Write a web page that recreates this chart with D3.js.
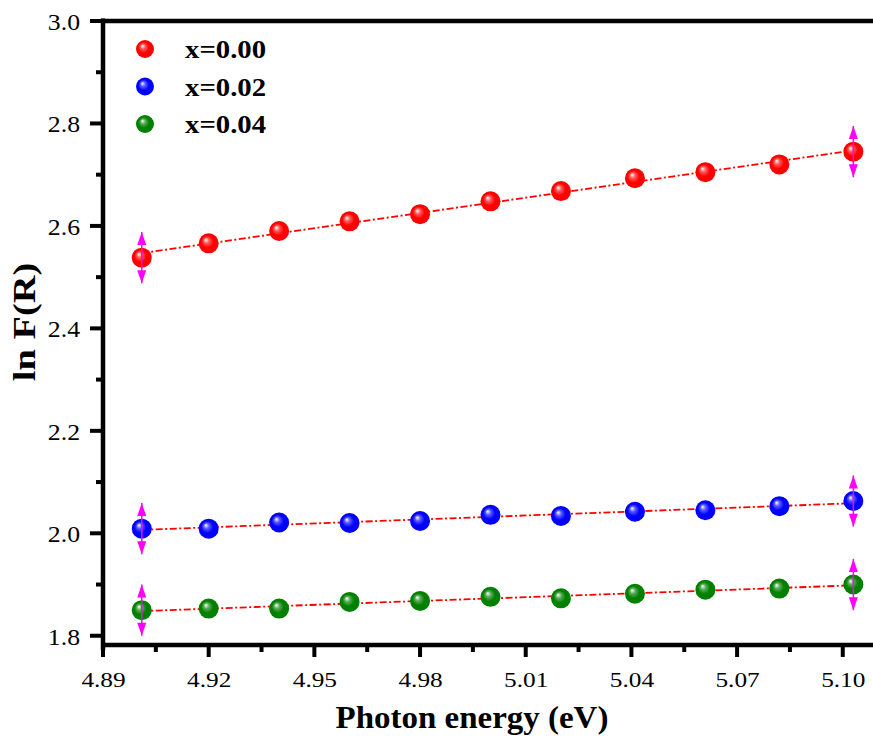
<!DOCTYPE html>
<html>
<head>
<meta charset="utf-8">
<script src="https://cdn.jsdelivr.net/npm/d3@7.9.0/dist/d3.min.js"></script>
<style>
  body { margin: 0; background: #fff; }
  svg { display: block; font-family: "Liberation Serif", "Times New Roman", serif; }
</style>
</head>
<body>
<svg id="chart" width="873" height="736"></svg>
<script>
// photon energy (eV)
const energy = [4.901, 4.920, 4.940, 4.960, 4.980, 5.000, 5.020, 5.041, 5.061, 5.082, 5.103];
// ln F(R) for each composition
const lnF000 = [2.538, 2.566, 2.590, 2.609, 2.623, 2.648, 2.668, 2.693, 2.705, 2.720, 2.745];
const lnF002 = [2.009, 2.009, 2.021, 2.020, 2.024, 2.036, 2.034, 2.042, 2.045, 2.053, 2.063];
const lnF004 = [1.850, 1.853, 1.853, 1.866, 1.868, 1.876, 1.873, 1.882, 1.890, 1.892, 1.900];
const seriesNames = ['x=0.00', 'x=0.02', 'x=0.04'];
const seriesColors = ['#ff0000', '#0000ff', '#008000'];
// error bars only on first and last points
const errIndex = [0, 10];
const errValue = 0.05;
const xTicks = [4.89, 4.92, 4.95, 4.98, 5.01, 5.04, 5.07, 5.10];
const yTicks = [1.8, 2.0, 2.2, 2.4, 2.6, 2.8, 3.0];

const series = [lnF000, lnF002, lnF004];

const svg = d3.select('#chart');
const x = d3.scaleLinear().domain([4.89, 5.11]).range([103, 878]);
const y = d3.scaleLinear().domain([1.78, 3.0]).range([646, 21]);

// stretch text horizontally (the original is slightly wide)
function stretch(sel, k) {
  sel.each(function () {
    const w = this.getComputedTextLength();
    d3.select(this).attr('textLength', w * k).attr('lengthAdjust', 'spacingAndGlyphs');
  });
}

const defs = svg.append('defs');
seriesColors.forEach((c, i) => {
  const g = defs.append('radialGradient')
    .attr('id', 'ball' + i)
    .attr('cx', '50%').attr('cy', '50%').attr('r', '55%')
    .attr('fx', '35%').attr('fy', '32%');
  g.append('stop').attr('offset', '0%').attr('stop-color', '#ffffff');
  g.append('stop').attr('offset', '25%').attr('stop-color', d3.interpolateRgb('#ffffff', c)(0.65));
  g.append('stop').attr('offset', '55%').attr('stop-color', c);
  g.append('stop').attr('offset', '100%').attr('stop-color', c);
});

// minor ticks
const xMinor = xTicks.slice(0, -1).map(d => d + 0.015);
const yMinor = yTicks.slice(0, -1).map(d => d + 0.1);

// axis labels via d3.axis, tick marks drawn below
const xAxis = svg.append('g').attr('transform', 'translate(0,645)')
  .call(d3.axisBottom(x).tickValues(xTicks).tickSize(0).tickFormat(d3.format('.2f')));
const yAxis = svg.append('g').attr('transform', 'translate(103,0)')
  .call(d3.axisLeft(y).tickValues(yTicks).tickSize(0).tickFormat(d3.format('.1f')));
svg.selectAll('.domain').remove();
svg.selectAll('.tick line').remove();

xAxis.selectAll('text').attr('font-size', 22).attr('fill', '#000')
  .attr('y', 26).attr('dy', '0.71em').attr('font-family', '"Liberation Serif", serif');
yAxis.selectAll('text').attr('font-size', 23).attr('fill', '#000')
  .attr('x', -23).attr('dy', '0.36em').attr('font-family', '"Liberation Serif", serif');
stretch(xAxis.selectAll('text'), 1.15);
stretch(yAxis.selectAll('text'), 1.12);

const ticks = svg.append('g').attr('stroke', '#000').attr('stroke-width', 4);
ticks.selectAll('.xt').data(xTicks.map(v => [v, 12]).concat(xMinor.map(v => [v, 7]))).join('line')
  .attr('x1', d => x(d[0])).attr('x2', d => x(d[0]))
  .attr('y1', 645).attr('y2', d => 645 + d[1]);
ticks.selectAll('.yt').data(yTicks.map(v => [v, 13]).concat(yMinor.map(v => [v, 7]))).join('line')
  .attr('y1', d => y(d[0])).attr('y2', d => y(d[0]))
  .attr('x1', 103).attr('x2', d => 103 - d[1]);

// frame lines
svg.append('line').attr('x1', 103).attr('x2', 103).attr('y1', 18.5).attr('y2', 650)
  .attr('stroke', '#000').attr('stroke-width', 4.5);
svg.append('line').attr('x1', 101).attr('x2', 873).attr('y1', 21).attr('y2', 21)
  .attr('stroke', '#000').attr('stroke-width', 4.5);
svg.append('line').attr('x1', 101).attr('x2', 873).attr('y1', 645).attr('y2', 645)
  .attr('stroke', '#000').attr('stroke-width', 4.5);

// linear fits
series.forEach((vals) => {
  const mx = d3.mean(energy), my = d3.mean(vals);
  const slope = d3.sum(energy, (e, i) => (e - mx) * (vals[i] - my)) / d3.sum(energy, e => (e - mx) ** 2);
  const ends = d3.extent(energy);
  svg.append('path')
    .attr('d', d3.line().x(d => x(d)).y(d => y(my + slope * (d - mx)))(ends))
    .attr('fill', 'none').attr('stroke', '#ff0000').attr('stroke-width', 1.8)
    .attr('stroke-dasharray', '7,2.5,2,2.5');
});

// markers
series.forEach((vals, s) => {
  svg.append('g').selectAll('circle').data(vals).join('circle')
    .attr('cx', (d, i) => x(energy[i]))
    .attr('cy', d => y(d))
    .attr('r', 10)
    .attr('fill', `url(#ball${s})`);
});

// error bars with arrow caps
series.forEach((vals) => {
  errIndex.forEach((i) => {
    const cx = x(energy[i]);
    const top = y(vals[i] + errValue), bot = y(vals[i] - errValue);
    const g = svg.append('g').attr('fill', '#ff00ff');
    g.append('line').attr('x1', cx).attr('x2', cx).attr('y1', top).attr('y2', bot)
      .attr('stroke', '#ff00ff').attr('stroke-width', 1.5);
    g.append('path').attr('d', `M${cx},${top} L${cx - 4.5},${top + 13} L${cx + 4.5},${top + 13} Z`);
    g.append('path').attr('d', `M${cx},${bot} L${cx - 4.5},${bot - 13} L${cx + 4.5},${bot - 13} Z`);
  });
});

// legend
const legend = svg.append('g');
seriesNames.forEach((name, i) => {
  const ly = 49 + i * 37.5;
  legend.append('circle').attr('cx', 145).attr('cy', ly).attr('r', 9).attr('fill', `url(#ball${i})`);
  legend.append('text').attr('x', 185).attr('y', ly).attr('dy', '0.36em')
    .attr('font-size', 25).attr('font-weight', 'bold').text(name);
});
stretch(legend.selectAll('text'), 1.15);

// axis titles
const xTitle = svg.append('text').attr('x', 472).attr('y', 728).attr('text-anchor', 'middle')
  .attr('font-size', 32).attr('font-weight', 'bold').text('Photon energy (eV)');
stretch(xTitle, 1.03);
const yTitle = svg.append('text').attr('transform', 'translate(35,322) rotate(-90)').attr('text-anchor', 'middle')
  .attr('font-size', 32).attr('font-weight', 'bold').text('ln F(R)');
stretch(yTitle, 1.2);
</script>
</body>
</html>
